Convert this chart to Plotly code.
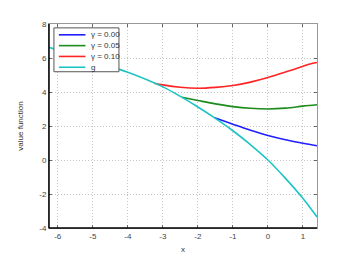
import plotly.graph_objects as go

# g curve
g_x = [-6.25, -6, -5, -4, -3, -2.5, -2, -1.5, -1, -0.5, 0, 0.5, 1, 1.4]
g_y = [6.63, 6.47, 5.83, 5.16, 4.30, 3.74, 3.12, 2.45, 1.72, 0.90, 0.0, -1.08, -2.26, -3.35]

# gamma = 0.10
r_x = [-3.25, -3, -2.5, -2, -1.5, -1, -0.5, 0, 0.5, 1, 1.2, 1.4]
r_y = [4.52, 4.42, 4.28, 4.22, 4.27, 4.38, 4.58, 4.85, 5.17, 5.51, 5.65, 5.74]

# gamma = 0.05
gr_x = [-2.46, -2, -1.5, -1, -0.5, 0, 0.5, 1, 1.4]
gr_y = [3.69, 3.50, 3.30, 3.14, 3.04, 3.0, 3.05, 3.17, 3.25]

# gamma = 0.00
b_x = [-1.52, -1, -0.5, 0, 0.5, 1, 1.4]
b_y = [2.48, 2.10, 1.75, 1.44, 1.19, 0.99, 0.84]

series_names = ["γ = 0.00", "γ = 0.05", "γ = 0.10", "g"]
series_colors = ["#1f1fff", "#1c8c1c", "#ff2424", "#1ec4c4"]

x_ticks = [-6, -5, -4, -3, -2, -1, 0, 1]
y_ticks = [-4, -2, 0, 2, 4, 6, 8]

fig = go.Figure()
for (xs, ys), name, col in zip([(b_x, b_y), (gr_x, gr_y), (r_x, r_y), (g_x, g_y)],
                               series_names, series_colors):
    fig.add_trace(go.Scatter(x=xs, y=ys, mode="lines", name=name, showlegend=False,
                             line=dict(color=col, width=1.6, shape="spline", smoothing=1.0)))

axis_common = dict(
    showgrid=True, gridcolor="#c4c4c4", griddash="1px,2px", gridwidth=1,
    zeroline=False, showline=True, linecolor="#999999", linewidth=1,
    mirror="ticks", ticks="inside", ticklen=3, tickcolor="#666666",
    tickfont=dict(family="Liberation Sans, Arial", size=8, color="#444444"),
)

# compact legend box (matching the reference's tight MATLAB-style legend)
shapes = [
    dict(type="line", xref="paper", yref="paper", x0=0, x1=0, y0=0, y1=1,
         line=dict(color="black", width=1.5)),
    dict(type="line", xref="paper", yref="paper", x0=0, x1=1, y0=0, y1=0,
         line=dict(color="black", width=1.5)),
    dict(type="rect", xref="paper", yref="paper", x0=0.0184, x1=0.261, y0=0.766, y1=0.981,
         line=dict(color="#555555", width=1), fillcolor="white", layer="above"),
]
annotations = []
leg_rows = [0.947, 0.894, 0.841, 0.788]
for yy, name, col in zip(leg_rows, series_names, series_colors):
    shapes.append(dict(type="line", xref="paper", yref="paper", x0=0.0368, x1=0.136,
                       y0=yy, y1=yy, line=dict(color=col, width=1.6), layer="above"))
    annotations.append(dict(xref="paper", yref="paper", x=0.148, y=yy, text=name,
                            showarrow=False, xanchor="left", yanchor="middle",
                            font=dict(size=8, color="#333333")))

fig.update_layout(
    width=342, height=256,
    margin=dict(l=37, r=33, t=12, b=30),
    paper_bgcolor="white", plot_bgcolor="white",
    font=dict(family="Liberation Sans, Arial", size=8, color="#333333"),
    xaxis=dict(range=[-6.25, 1.4], tickvals=x_ticks, ticktext=[str(v) for v in x_ticks],
               title=dict(text="x", font=dict(size=8), standoff=6), **axis_common),
    yaxis=dict(range=[-4, 8], tickvals=y_ticks, ticktext=[str(v) for v in y_ticks],
               title=dict(text="value function", font=dict(size=8), standoff=14), **axis_common),
    showlegend=False,
    shapes=shapes,
    annotations=annotations,
)

fig.write_html("out.html")
